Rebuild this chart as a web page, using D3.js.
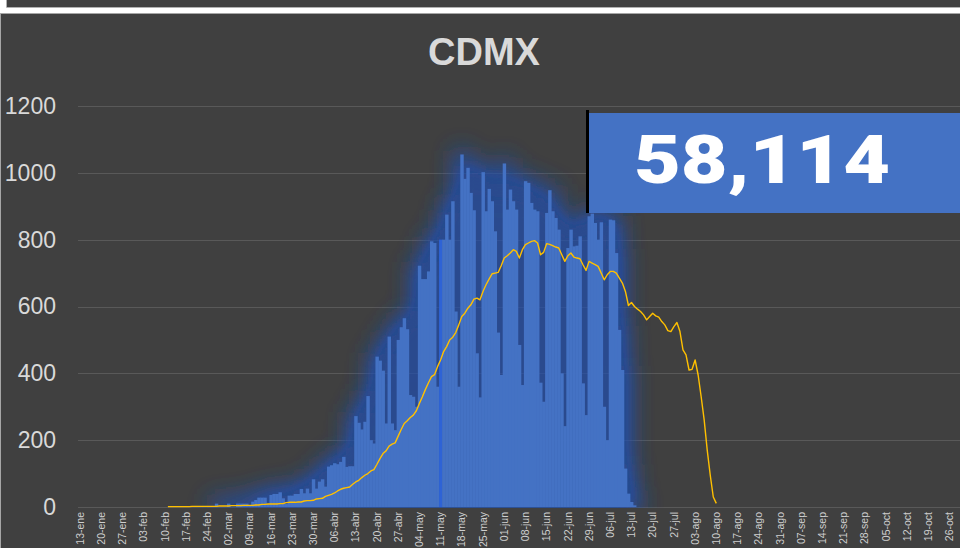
<!DOCTYPE html>
<html><head><meta charset="utf-8">
<script src="https://cdn.jsdelivr.net/npm/d3@7"></script>
<style>html,body{margin:0;padding:0;background:#fff;overflow:hidden}svg{display:block}</style>
</head><body>
<svg id="chart" width="960" height="548"></svg>
<script>
const chartTitle = "CDMX";
const totalLabel = "58,114";
const axisStart = "2020-01-13";
const axisDays = 292;
const tickLabels = ["13-ene","20-ene","27-ene","03-feb","10-feb","17-feb","24-feb","02-mar","09-mar","16-mar","23-mar","30-mar","06-abr","13-abr","20-abr","27-abr","04-may","11-may","18-may","25-may","01-jun","08-jun","15-jun","22-jun","29-jun","06-jul","13-jul","20-jul","27-jul","03-ago","10-ago","17-ago","24-ago","31-ago","07-sep","14-sep","21-sep","28-sep","05-oct","12-oct","19-oct","26-oct"];
const yTicks = [0,200,400,600,800,1000,1200];

// daily cases, starting 27-feb
const barStart = "2020-02-27";
const barValues = [10,0,0,0,10,0,0,10,10,10,10,3,16,21,28,28,28,9,36,39,39,44,26,9,34,34,39,39,54,41,55,41,83,55,76,83,61,121,125,131,128,135,150,120,122,122,
272,252,232,255,332,200,190,450,438,408,250,510,250,230,500,538,565,532,335,330,300,722,682,682,705,795,790,360,800,800,875,800,915,585,360,
1055,982,1015,940,888,460,328,1002,885,952,915,825,522,395,1028,890,950,915,890,485,365,975,970,910,890,885,372,315,880,948,885,865,830,400,242,
775,830,780,782,810,370,275,870,878,850,800,852,300,200,860,858,760,530,410,115,40,15,5];
const highlightDate = "2020-05-11";

// moving average, starting 11-feb
const lineStart = "2020-02-11";
const lineValues = [1,1,1,1,1,1,1,1,2,2,2,2,2,2,2,2,2,
3,3,3,3,4,4,4,4,5,5,5,5,6,6,
8,8,9,9,9,9,10,10,
13,14,14,14,15,15,
18,19,19,20,
24,25,26,
32,35,38,42,
48,53,56,58,60,
68,75,80,88,95,100,
108,112,128,145,160,
168,182,188,192,212,
232,250,258,268,275,
288,310,330,352,372,
390,396,420,440,465,
480,500,508,522,545,
570,580,595,605,622,
625,620,645,665,682,
698,700,702,722,745,
752,760,770,765,745,
770,785,790,795,797,
790,755,762,788,786,
782,778,775,755,735,
752,760,748,745,743,
725,708,735,730,725,
720,700,680,695,705,
705,700,685,670,645,
603,612,600,592,585,
575,560,570,580,572,
568,555,545,528,525,
540,552,525,470,455,
410,412,440,395,330,
260,170,95,30,11];

const fmt = d3.utcFormat("%Y-%m-%d");
const parse = d3.utcParse("%Y-%m-%d");
const start = parse(axisStart);
const days = d3.utcDay.range(start, d3.utcDay.offset(start, axisDays)).map(fmt);
const seriesFrom = (s, vals) => vals.map((v, i) => ({date: fmt(d3.utcDay.offset(parse(s), i)), value: v}));
const bars = seriesFrom(barStart, barValues);
const line = seriesFrom(lineStart, lineValues);
const tickDates = tickLabels.map((t, i) => fmt(d3.utcDay.offset(start, i * 7)));

const W = 960, H = 548;
const x = d3.scaleBand().domain(days).range([78.5, 78.5 + axisDays * 3.03]).padding(0);
const y = d3.scaleLinear().domain([0, 1200]).range([507, 106]);

const svg = d3.select("#chart");
const defs = svg.append("defs");
const f = defs.append("filter").attr("id", "glow").attr("filterUnits", "userSpaceOnUse")
  .attr("x", 0).attr("y", 0).attr("width", W).attr("height", H);
f.append("feMorphology").attr("operator", "dilate").attr("radius", 4).attr("result", "d");
f.append("feGaussianBlur").attr("in", "d").attr("stdDeviation", 12).attr("result", "b");
const ct = f.append("feComponentTransfer").attr("in", "b");
ct.append("feFuncA").attr("type", "linear").attr("slope", 1.9).attr("intercept", 0);
defs.append("clipPath").attr("id", "plotclip").append("rect").attr("x", 0).attr("y", 0).attr("width", W).attr("height", 508);

// frame
svg.append("rect").attr("x", 0).attr("y", 0).attr("width", W).attr("height", H).attr("fill", "#ffffff");
svg.append("rect").attr("x", 7).attr("y", 0).attr("width", W).attr("height", 7).attr("fill", "#404040");
svg.append("path").attr("d", "M6.5,0V7.5H960").attr("fill", "none").attr("stroke", "#b0b0b0");
svg.append("rect").attr("x", 0).attr("y", 13).attr("width", W).attr("height", H - 13).attr("fill", "#a6a6a6");
svg.append("rect").attr("x", 1).attr("y", 14).attr("width", W).attr("height", H - 14).attr("fill", "#404040");

// title
svg.append("text").attr("x", 484).attr("y", 65).attr("text-anchor", "middle")
  .attr("font-family", "Liberation Sans, Arial, sans-serif").attr("font-weight", "bold")
  .attr("font-size", 38).attr("fill", "#d9d9d9").text(chartTitle);

// gridlines
svg.append("g").selectAll("line").data(yTicks).join("line")
  .attr("x1", 78).attr("x2", W)
  .attr("y1", d => Math.round(y(d)) + 0.5).attr("y2", d => Math.round(y(d)) + 0.5)
  .attr("stroke", "#595959").attr("stroke-width", 1);

// glow
svg.append("g").attr("clip-path", "url(#plotclip)")
  .append("g").attr("filter", "url(#glow)").attr("opacity", 0.72)
  .selectAll("rect").data(bars.filter(d => d.value > 0)).join("rect")
  .attr("x", d => x(d.date)).attr("width", x.bandwidth() + 0.4)
  .attr("y", d => y(d.value)).attr("height", d => y(0) - y(d.value))
  .attr("fill", "#2150ad");

// bars
svg.append("g").selectAll("rect").data(bars.filter(d => d.value > 0)).join("rect")
  .attr("x", d => x(d.date)).attr("width", x.bandwidth() + 0.4)
  .attr("y", d => y(d.value)).attr("height", d => y(0) - y(d.value))
  .attr("fill", d => d.date === highlightDate ? "#2e63d6" : "#4472c4");

// line
svg.append("path").datum(line)
  .attr("fill", "none").attr("stroke", "#ffc000").attr("stroke-width", 1.4).attr("stroke-linejoin", "round")
  .attr("d", d3.line().x(d => x(d.date) + x.bandwidth() / 2).y(d => y(d.value)));

// y axis
const ya = svg.append("g").attr("transform", "translate(56,0)")
  .call(d3.axisLeft(y).tickValues(yTicks).tickFormat(d3.format("d")).tickSize(0).tickPadding(0));
ya.select(".domain").remove();
ya.selectAll("text").attr("font-family", "Liberation Sans, Arial, sans-serif").attr("font-size", 23).attr("fill", "#d9d9d9");

// x axis
const xa = svg.append("g").attr("transform", "translate(0,507)")
  .call(d3.axisBottom(x).tickValues(tickDates).tickFormat((d, i) => tickLabels[i]).tickSize(0));
xa.select(".domain").remove();
xa.selectAll("text").attr("transform", "rotate(-90)").attr("text-anchor", "end")
  .attr("x", -5).attr("y", 0).attr("dy", "0.35em")
  .attr("font-family", "Liberation Sans, Arial, sans-serif").attr("font-size", 10.5).attr("fill", "#cfcfcf");

// total box
svg.append("rect").attr("x", 588).attr("y", 113).attr("width", 380).attr("height", 100).attr("fill", "#4472c4");
svg.append("rect").attr("x", 586).attr("y", 110).attr("width", 3).attr("height", 103).attr("fill", "#000000");
svg.append("text").attr("x", 762).attr("y", 183).attr("text-anchor", "middle")
  .attr("font-family", "Arial Black, Roboto, Lato, DejaVu Sans, sans-serif").attr("font-weight", 900)
  .attr("font-size", 66).attr("fill", "#ffffff")
  .attr("textLength", 256).attr("lengthAdjust", "spacingAndGlyphs").text(totalLabel);
</script>
</body></html>
